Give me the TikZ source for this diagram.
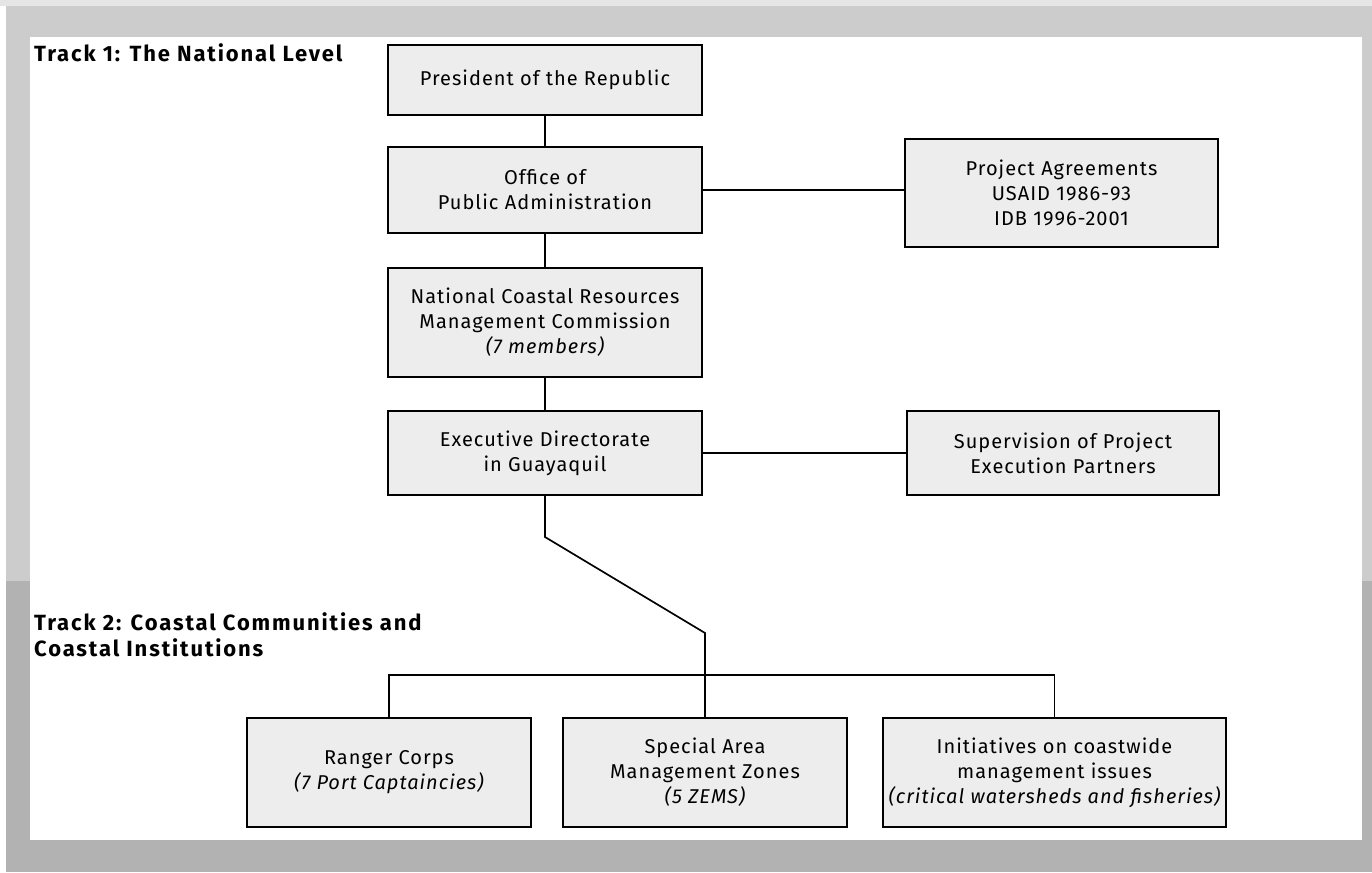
\documentclass[tikz,border=0pt]{standalone}
\usepackage{fontspec}
\setmainfont{Fira Sans}
\newfontfamily\boxfont[LetterSpace=5]{Fira Sans}
\newfontfamily\trackfont[LetterSpace=8.5]{Fira Sans}

\begin{document}
\begin{tikzpicture}[x=1pt,y=-1pt]
	\tikzstyle{box} = [rectangle,draw,line width=1.6pt,fill=black!7,align=center,inner sep=0pt,font=\boxfont\fontsize{20}{25}\selectfont]
	\tikzstyle{wide} = [minimum width=314pt]
	\tikzstyle{low} = [minimum width=284pt,minimum height=109pt]
	\tikzstyle{track} = [anchor=west,align=left,inner sep=0pt,font=\trackfont\bfseries\fontsize{22}{26}\selectfont]
	\tikzstyle{link} = [line width=1.7pt]
	
	% background
	\fill[black!10] (0,0) rectangle (1372,6);
	\fill[black!20] (6,6) rectangle (1372,581);
	\fill[black!30] (6,581) rectangle (1372,872);
	\fill[white] (0,6) rectangle (6,872);
	\fill[white] (30,37) rectangle (1362,840);
	\useasboundingbox (0,0) rectangle (1372,872);
	
	\node[track](t-1) at (34,53) {Track 1: The National Level};
	\node[track](t-2) at (34,635) {Track 2: Coastal Communities and\\Coastal Institutions};
	
	\node[box,wide,minimum height=70pt](pres) at (545,80) {President of the Republic};
	\node[box,wide,minimum height=86pt](opa) at (545,190) {Office of\\Public Administration};
	\node[box,wide,minimum height=109pt](ncrmc) at (545,322.5) {National Coastal Resources\\Management Commission\\{\itshape (7 members)}};
	\node[box,wide,minimum height=84pt](ed) at (545,453) {Executive Directorate\\in Guayaquil};
	
	\node[box,minimum width=313pt,minimum height=108pt](pa) at (1061.5,193) {Project Agreements\\USAID 1986-93\\IDB 1996-2001};
	\node[box,minimum width=312pt,minimum height=84pt](spep) at (1063,453) {Supervision of Project\\Execution Partners};
	
	\node[box,low](rc) at (389,772.5) {Ranger Corps\\{\itshape (7 Port Captaincies)}};
	\node[box,low](samz) at (705,772.5) {Special Area\\Management Zones\\{\itshape (5 ZEMS)}};
	\node[box,low,minimum width=343pt](ci) at (1054.5,772.5) {Initiatives on coastwide\\management issues\\{\itshape (critical watersheds and fisheries)}};
	
	\path[link] (pres) edge (opa)
	(opa) edge (ncrmc)
	(ncrmc) edge (ed)
	(ed) edge (spep)
	(opa.east) edge (opa.east -| pa.west);
	
	\coordinate (k-1) at (545,537);
	\coordinate (k-2) at (705,633);
	\draw[link] (ed.south) -- (k-1) -- (k-2) -- (samz.north);
	\draw[link] (rc.north) -- ++(0,-42) -| (ci.north);
	\end{tikzpicture}
\end{document}
